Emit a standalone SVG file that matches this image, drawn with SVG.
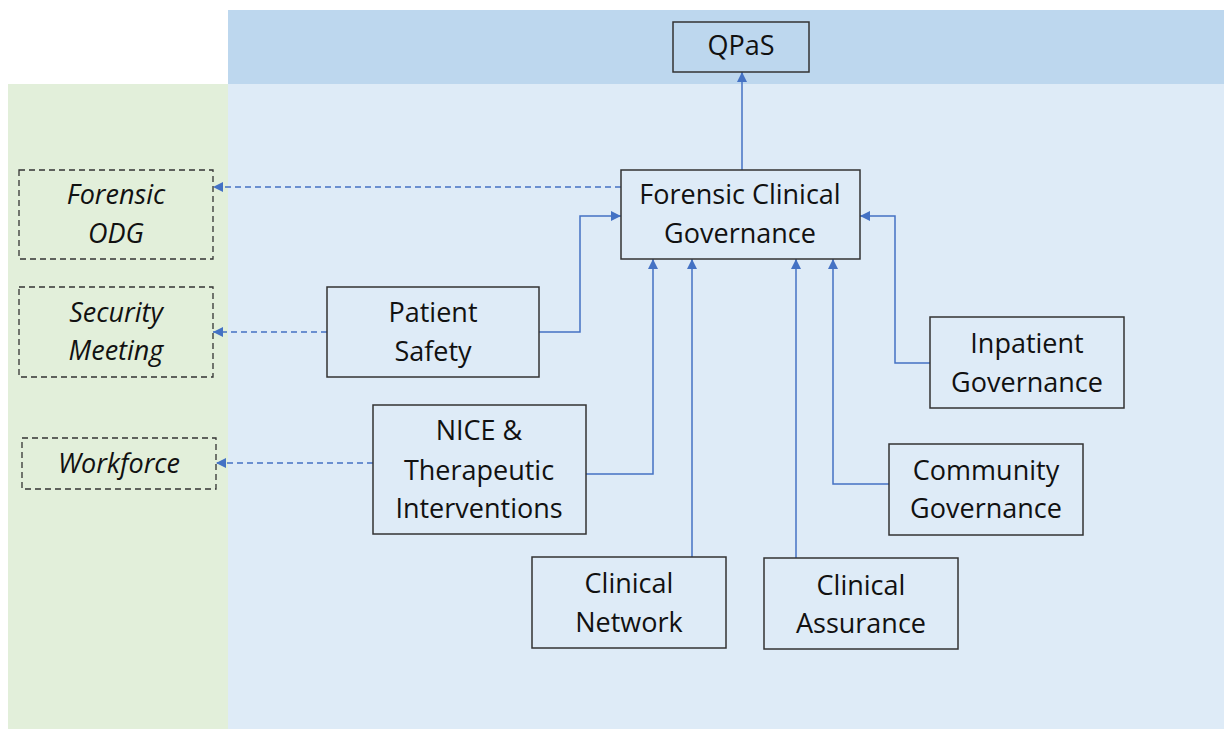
<svg xmlns="http://www.w3.org/2000/svg" width="1224" height="729" viewBox="0 0 1224 729">
  <defs>
    <style>
      .box { fill: none; stroke: #333; stroke-width: 1.5; }
      .dbox { fill: none; stroke: #333; stroke-width: 1.3; stroke-dasharray: 6 4; }
      .lbl { font-family: "Open Sans", "Noto Sans", sans-serif; font-size: 27px; fill: #111; text-anchor: middle; }
      .it { font-style: italic; }
      .link { fill: none; stroke: #4472C4; stroke-width: 1.5; }
      .dash { fill: none; stroke: #4472C4; stroke-width: 1.5; stroke-dasharray: 6 4; }
    </style>
    <marker id="arrow" viewBox="0 0 10 10" refX="10" refY="5" markerWidth="10" markerHeight="10" markerUnits="userSpaceOnUse" orient="auto">
      <path d="M0,0 L10,5 L0,10 z" fill="#4472C4"/>
    </marker>
  </defs>

  <!-- background regions -->
  <rect x="0" y="0" width="1224" height="729" fill="#ffffff"/>
  <rect x="228" y="10" width="996" height="74" fill="#BDD7EE"/>
  <rect x="8" y="84" width="220" height="645" fill="#E2EFDA"/>
  <rect x="228" y="84" width="996" height="645" fill="#DEEBF7"/>

  <!-- connectors -->
  <g id="connectors">
    <path class="link" d="M742,170 V72" marker-end="url(#arrow)"/>
    <path class="link" d="M539,332 H580 V216 H621" marker-end="url(#arrow)"/>
    <path class="link" d="M586,474 H653 V259" marker-end="url(#arrow)"/>
    <path class="link" d="M692,557 V259" marker-end="url(#arrow)"/>
    <path class="link" d="M796,558 V259" marker-end="url(#arrow)"/>
    <path class="link" d="M889,484 H833 V259" marker-end="url(#arrow)"/>
    <path class="link" d="M930,363 H895 V216 H860" marker-end="url(#arrow)"/>
    <path class="dash" d="M621,187 H213" marker-end="url(#arrow)"/>
    <path class="dash" d="M327,332 H213" marker-end="url(#arrow)"/>
    <path class="dash" d="M373,463 H216" marker-end="url(#arrow)"/>
  </g>

  <g id="qpas">
    <rect class="box" x="673" y="22" width="136" height="50"/>
    <text class="lbl" x="741" y="55">QPaS</text>
  </g>

  <g id="forensic-clinical-governance">
    <rect class="box" x="621" y="170" width="239" height="89"/>
    <text class="lbl" x="740" y="204">Forensic Clinical</text>
    <text class="lbl" x="740" y="243">Governance</text>
  </g>

  <g id="forensic-odg">
    <rect class="dbox" x="19" y="170" width="194" height="89"/>
    <text class="lbl it" x="116" y="204">Forensic</text>
    <text class="lbl it" x="116" y="243">ODG</text>
  </g>

  <g id="security-meeting">
    <rect class="dbox" x="19" y="287" width="194" height="90"/>
    <text class="lbl it" x="116" y="322">Security</text>
    <text class="lbl it" x="116" y="360">Meeting</text>
  </g>

  <g id="workforce">
    <rect class="dbox" x="22" y="438" width="194" height="51"/>
    <text class="lbl it" x="119" y="473">Workforce</text>
  </g>

  <g id="patient-safety">
    <rect class="box" x="327" y="287" width="212" height="90"/>
    <text class="lbl" x="433" y="322">Patient</text>
    <text class="lbl" x="433" y="361">Safety</text>
  </g>

  <g id="nice-therapeutic">
    <rect class="box" x="373" y="405" width="213" height="129"/>
    <text class="lbl" x="479" y="440">NICE &amp;</text>
    <text class="lbl" x="479" y="480">Therapeutic</text>
    <text class="lbl" x="479" y="518">Interventions</text>
  </g>

  <g id="clinical-network">
    <rect class="box" x="532" y="557" width="194" height="91"/>
    <text class="lbl" x="629" y="593">Clinical</text>
    <text class="lbl" x="629" y="632">Network</text>
  </g>

  <g id="clinical-assurance">
    <rect class="box" x="764" y="558" width="194" height="91"/>
    <text class="lbl" x="861" y="595">Clinical</text>
    <text class="lbl" x="861" y="633">Assurance</text>
  </g>

  <g id="inpatient-governance">
    <rect class="box" x="930" y="317" width="194" height="91"/>
    <text class="lbl" x="1027" y="353">Inpatient</text>
    <text class="lbl" x="1027" y="392">Governance</text>
  </g>

  <g id="community-governance">
    <rect class="box" x="889" y="444" width="194" height="91"/>
    <text class="lbl" x="986" y="480">Community</text>
    <text class="lbl" x="986" y="518">Governance</text>
  </g>
</svg>
